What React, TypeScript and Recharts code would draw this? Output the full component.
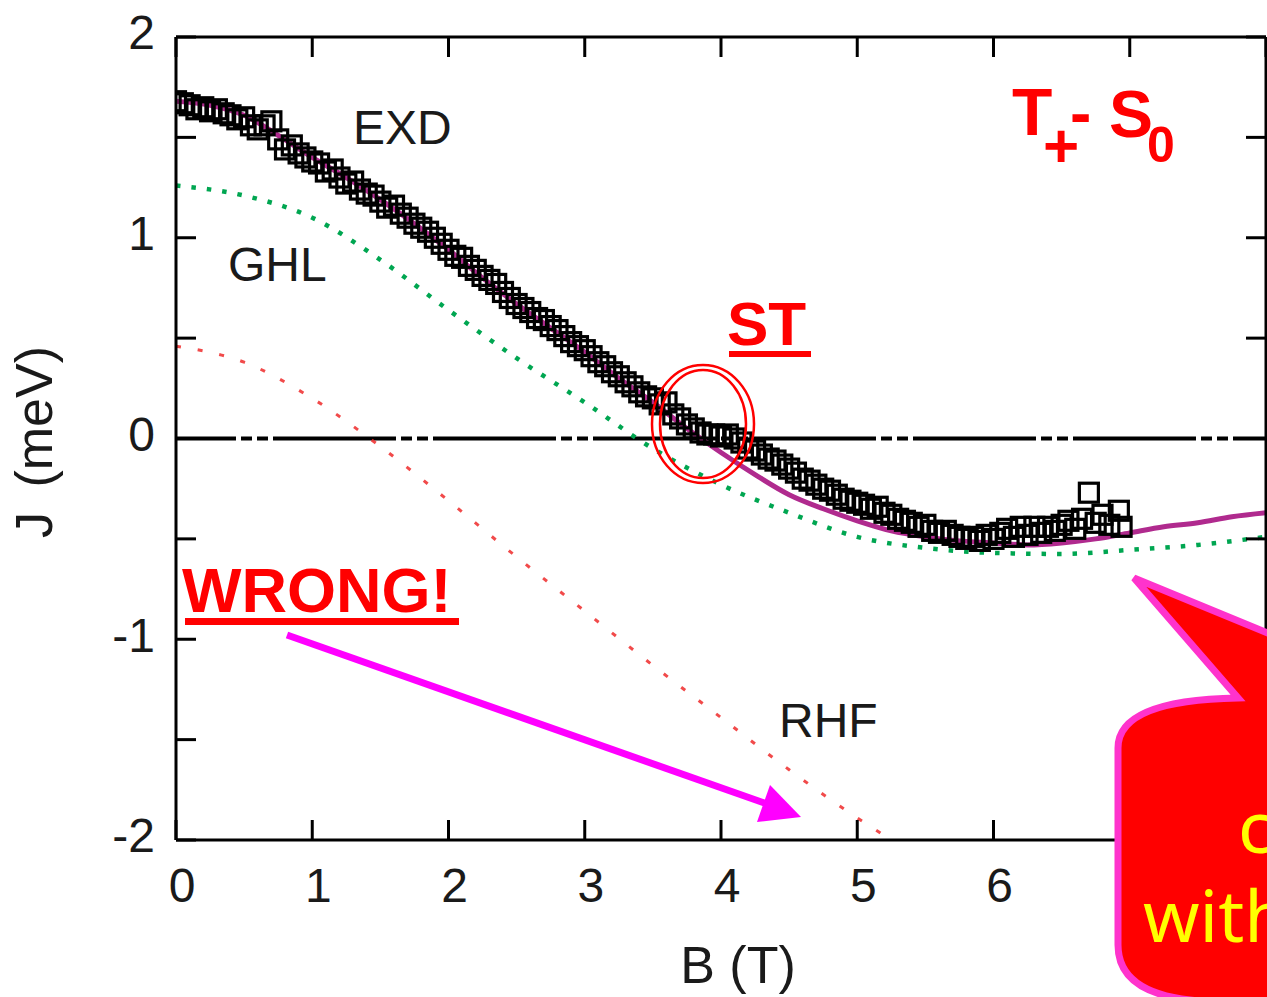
import { ComposedChart, Line, Scatter, XAxis, YAxis, ReferenceLine } from 'recharts'

// axes
const xTicks = [0, 1, 2, 3, 4, 5, 6, 7, 8]
const xLabelMax = 6 // 7 and 8 sit under the callout
const yTicks = [-2, -1.5, -1, -0.5, 0, 0.5, 1, 1.5, 2]

// EXD measured points (open squares), [B, J]
const exdPoints: [number, number][] = [
  [0.00, 1.68], [0.05, 1.67], [0.10, 1.66], [0.15, 1.64], [0.20, 1.65], [0.25, 1.63], [0.30, 1.64],
  [0.35, 1.62], [0.40, 1.61], [0.45, 1.59], [0.50, 1.60], [0.55, 1.56], [0.60, 1.54], [0.65, 1.56],
  [0.70, 1.58], [0.75, 1.49], [0.80, 1.44], [0.85, 1.46], [0.90, 1.42], [0.95, 1.40], [1.00, 1.38],
  [1.05, 1.37], [1.10, 1.33], [1.15, 1.34], [1.20, 1.30], [1.25, 1.27], [1.30, 1.28], [1.35, 1.24],
  [1.40, 1.22], [1.45, 1.21], [1.50, 1.18], [1.55, 1.15], [1.60, 1.16], [1.65, 1.12], [1.70, 1.10],
  [1.75, 1.07], [1.80, 1.05], [1.85, 1.03], [1.90, 1.00], [1.95, 0.97], [2.00, 0.94], [2.05, 0.91],
  [2.10, 0.90], [2.15, 0.86], [2.20, 0.84], [2.25, 0.81], [2.30, 0.79], [2.35, 0.77], [2.40, 0.73],
  [2.45, 0.70], [2.50, 0.67], [2.55, 0.65], [2.60, 0.63], [2.65, 0.60], [2.70, 0.59], [2.75, 0.56],
  [2.80, 0.54], [2.85, 0.51], [2.90, 0.48], [2.95, 0.46], [3.00, 0.44], [3.05, 0.41], [3.10, 0.38],
  [3.15, 0.36], [3.20, 0.33], [3.25, 0.31], [3.30, 0.28], [3.35, 0.26], [3.40, 0.23], [3.45, 0.21],
  [3.50, 0.20], [3.55, 0.17], [3.60, 0.18], [3.65, 0.12], [3.70, 0.10], [3.75, 0.07], [3.80, 0.05],
  [3.85, 0.03], [3.90, 0.02], [3.95, 0.02], [4.00, 0.01], [4.05, 0.02], [4.10, 0.00], [4.15, -0.02],
  [4.20, -0.05], [4.25, -0.06], [4.30, -0.08], [4.35, -0.10], [4.40, -0.11], [4.45, -0.13],
  [4.50, -0.15], [4.55, -0.17], [4.60, -0.20], [4.65, -0.21], [4.70, -0.23], [4.75, -0.25],
  [4.80, -0.26], [4.85, -0.28], [4.90, -0.30], [4.95, -0.31], [5.00, -0.32], [5.05, -0.33],
  [5.10, -0.35], [5.15, -0.34], [5.20, -0.37], [5.25, -0.38], [5.30, -0.40], [5.35, -0.41],
  [5.40, -0.42], [5.45, -0.44], [5.50, -0.43], [5.55, -0.46], [5.60, -0.47], [5.65, -0.46],
  [5.70, -0.48], [5.75, -0.49], [5.80, -0.50], [5.85, -0.49], [5.90, -0.51], [5.95, -0.48],
  [6.00, -0.50], [6.05, -0.47], [6.10, -0.45], [6.15, -0.49], [6.20, -0.44], [6.25, -0.48],
  [6.30, -0.44], [6.35, -0.47], [6.40, -0.44], [6.45, -0.46], [6.50, -0.43], [6.55, -0.41],
  [6.60, -0.45], [6.65, -0.40], [6.70, -0.27], [6.75, -0.42], [6.80, -0.38], [6.85, -0.43],
  [6.92, -0.36], [6.94, -0.44],
]

// EXD theory curve (purple)
const exdCurve: [number, number][] = [
  [0, 1.68], [0.25, 1.66], [0.5, 1.61], [0.75, 1.51], [1.0, 1.40], [1.25, 1.30], [1.5, 1.19],
  [1.75, 1.07], [2.0, 0.94], [2.25, 0.80], [2.5, 0.67], [2.75, 0.55], [3.0, 0.43], [3.25, 0.30],
  [3.5, 0.18], [3.75, 0.05], [4.0, -0.07], [4.25, -0.18], [4.5, -0.28], [4.75, -0.35], [5.0, -0.41],
  [5.25, -0.46], [5.5, -0.49], [5.75, -0.51], [6.0, -0.52], [6.25, -0.53], [6.5, -0.52],
  [6.75, -0.50], [7.0, -0.47], [7.25, -0.44], [7.5, -0.42], [7.75, -0.39], [8.0, -0.37],
]

// GHL (green dotted)
const ghlCurve: [number, number][] = [
  [0, 1.26], [0.5, 1.21], [1.0, 1.10], [1.5, 0.89], [2.0, 0.64], [2.5, 0.40], [3.0, 0.18],
  [3.5, -0.05], [4.0, -0.23], [4.5, -0.37], [5.0, -0.49], [5.5, -0.545], [6.0, -0.57],
  [6.5, -0.575], [7.0, -0.555], [7.5, -0.53], [8.0, -0.49],
]

// RHF (red dotted)
const rhfCurve: [number, number][] = [
  [0, 0.46], [0.5, 0.38], [1.0, 0.20], [1.5, -0.04], [2.0, -0.31], [2.5, -0.59], [3.0, -0.86],
  [3.5, -1.13], [4.0, -1.39], [4.5, -1.65], [5.0, -1.89], [5.25, -2.0],
]

const rows = (pts: [number, number][]) => pts.map(([B, J]) => ({ B, J }))

const FONT = '"Liberation Sans", Arial, Helvetica, sans-serif'
const GRAY = '#1a1a1a'
const frame = { stroke: '#000', strokeWidth: 3 }

function LeftTick({ x, y, payload }: any) {
  if (!Number.isInteger(payload.value)) return <g />
  return (
    <text x={x} y={y - 5} dy="0.36em" textAnchor="end" fontSize={48} fontFamily={FONT} fill={GRAY}>
      {payload.value}
    </text>
  )
}

function BottomTick({ x, y, payload }: any) {
  if (payload.value > xLabelMax) return <g />
  return (
    <text x={x + 6} y={y} dy="0.71em" textAnchor="middle" fontSize={48} fontFamily={FONT} fill={GRAY}>
      {payload.value}
    </text>
  )
}

const NoLabel = () => <g />

const Square = ({ cx, cy }: any) => (
  <rect x={cx - 9.5} y={cy - 9.5} width={19} height={19} fill="none" stroke="#000" strokeWidth={3.2} />
)

function Overlay() {
  const bold = { fontFamily: FONT, fontWeight: 700, fill: '#ff0000' }
  return (
    <svg width={1267} height={997} style={{ position: 'absolute', left: 0, top: 0, pointerEvents: 'none' }}>
      {/* gnuplot labels */}
      <g fontFamily={FONT} fill={GRAY} fontSize={48}>
        <text x={353} y={144}>EXD</text>
        <text x={228} y={281}>GHL</text>
        <text x={779} y={737}>RHF</text>
      </g>
      <text x={738} y={983} textAnchor="middle" fontFamily={FONT} fontSize={52} fill={GRAY}>B (T)</text>
      <text x={52} y={442} transform="rotate(-90 52 442)" textAnchor="middle" fontFamily={FONT} fontSize={52} fill={GRAY}>
        J<tspan dx={10}> (meV)</tspan>
      </text>

      {/* T+ - S0 */}
      <text x={1012} y={135} fontSize={66} {...bold}>T</text>
      <text x={1043} y={167} fontSize={62} {...bold}>+</text>
      <text x={1070} y={135} fontSize={64} {...bold}>-</text>
      <text x={1109} y={137} fontSize={66} {...bold}>S</text>
      <text x={1147} y={162} fontSize={50} {...bold}>0</text>

      {/* ST */}
      <text x={727} y={345} fontSize={62} {...bold}>ST</text>
      <rect x={729} y={351} width={82} height={6} fill="#ff0000" />
      <ellipse cx={703} cy={424} rx={51} ry={59} fill="none" stroke="#ff0000" strokeWidth={2.5} />
      <ellipse cx={703} cy={424} rx={43} ry={54} fill="none" stroke="#ff0000" strokeWidth={2.5} />

      {/* WRONG! arrow */}
      <text x={182} y={612} fontSize={63} {...bold}>WRONG!</text>
      <rect x={185} y={618} width={274} height={7} fill="#ff0000" />
      <line x1={287} y1={635} x2={770} y2={805} stroke="#ff00ff" strokeWidth={7} />
      <polygon points="770,785 801,817 757,822" fill="#ff00ff" />

      {/* callout */}
      <path
        d="M 1134 578 L 1275 636 L 1275 1010 L 1190 1000 Q 1118 992 1118 945 L 1118 748 Q 1118 700 1238 698 Z"
        fill="#ff0000"
        stroke="#ff33cc"
        strokeWidth={7}
        strokeLinejoin="miter"
      />
      <g fontFamily='"Noto Sans", "Open Sans", sans-serif' fontSize={72} fill="#ffff00">
        <text x={1238} y={853}>consistent</text>
        <text x={1143} y={942}>with experiment</text>
      </g>
    </svg>
  )
}

export default function App() {
  return (
    <div style={{ position: 'absolute', left: 0, top: 0, width: 1267, height: 997, overflow: 'hidden', background: '#fff' }}>
      <ComposedChart width={1270} height={997} margin={{ top: 36, right: 3, bottom: 156, left: 175 }}>
        <XAxis
          xAxisId="b"
          type="number"
          dataKey="B"
          domain={[0, 8]}
          ticks={xTicks}
          interval={0}
          allowDataOverflow
          height={1}
          axisLine={frame}
          tickLine={frame}
          tickSize={-20}
          tickMargin={48}
          tick={<BottomTick />}
        />
        <XAxis
          xAxisId="top"
          orientation="top"
          type="number"
          dataKey="B"
          domain={[0, 8]}
          ticks={xTicks}
          interval={0}
          allowDataOverflow
          height={1}
          axisLine={frame}
          tickLine={frame}
          tickSize={-20}
          tick={<NoLabel />}
        />
        <YAxis
          yAxisId="j"
          type="number"
          domain={[-2, 2]}
          ticks={yTicks}
          interval={0}
          allowDataOverflow
          width={1}
          axisLine={frame}
          tickLine={frame}
          tickSize={-20}
          tickMargin={41}
          tick={<LeftTick />}
        />
        <YAxis
          yAxisId="right"
          orientation="right"
          type="number"
          domain={[-2, 2]}
          ticks={yTicks}
          interval={0}
          allowDataOverflow
          width={1}
          axisLine={frame}
          tickLine={frame}
          tickSize={-20}
          tick={<NoLabel />}
        />
        <ReferenceLine
          xAxisId="b"
          yAxisId="j"
          y={0}
          stroke="#000"
          strokeWidth={4}
          strokeDasharray="123 5 11 5 11 5"
          strokeDashoffset={63}
        />
        <Line
          xAxisId="b"
          yAxisId="j"
          data={rows(rhfCurve)}
          dataKey="J"
          type="monotone"
          stroke="#ee2a2a"
          strokeOpacity={0.85}
          strokeWidth={3}
          strokeDasharray="5 17"
          dot={false}
          isAnimationActive={false}
        />
        <Line
          xAxisId="b"
          yAxisId="j"
          data={rows(ghlCurve)}
          dataKey="J"
          type="monotone"
          stroke="#00a651"
          strokeWidth={4.5}
          strokeDasharray="4.5 11"
          dot={false}
          isAnimationActive={false}
        />
        <Line
          xAxisId="b"
          yAxisId="j"
          data={rows(exdCurve)}
          dataKey="J"
          type="monotone"
          stroke="#b02a8e"
          strokeWidth={5}
          dot={false}
          isAnimationActive={false}
        />
        <Scatter
          xAxisId="b"
          yAxisId="j"
          data={rows(exdPoints)}
          dataKey="J"
          shape={<Square />}
          isAnimationActive={false}
        />
      </ComposedChart>
      <Overlay />
    </div>
  )
}
